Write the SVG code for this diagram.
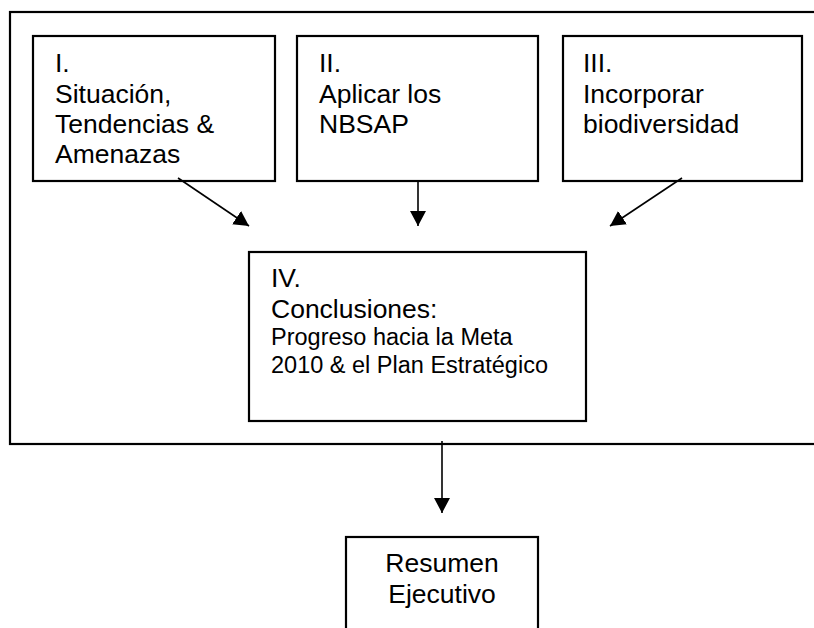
<svg xmlns="http://www.w3.org/2000/svg" width="814" height="628" viewBox="0 0 814 628">
<style>
.box{fill:#fff;stroke:#000;stroke-width:2.2}
.t{font-family:"Liberation Sans",Arial,sans-serif;font-size:26.5px;fill:#000}
.s{font-size:23.5px}
.c{stroke:#000;stroke-width:1.6;fill:none;marker-end:url(#ah)}
</style>
<defs>
<marker id="ah" viewBox="0 0 15 16" refX="15" refY="8" markerWidth="15" markerHeight="16" markerUnits="userSpaceOnUse" orient="auto">
<path d="M0,0 L15,8 L0,16 z" fill="#000"/>
</marker>
</defs>
<rect x="0" y="0" width="814" height="628" fill="#fff"/>
<g id="outer">
<rect class="box" x="10" y="12" width="810" height="432" fill="none"/>
</g>
<g id="n1">
<rect class="box" x="33" y="36" width="242" height="145"/>
<text class="t" x="55" y="72">I.</text>
<text class="t" x="55" y="103">Situación,</text>
<text class="t" x="55" y="133">Tendencias &amp;</text>
<text class="t" x="55" y="163">Amenazas</text>
</g>
<g id="n2">
<rect class="box" x="297" y="36" width="241" height="145"/>
<text class="t" x="319" y="72">II.</text>
<text class="t" x="319" y="103">Aplicar los</text>
<text class="t" x="319" y="133">NBSAP</text>
</g>
<g id="n3">
<rect class="box" x="563" y="36" width="239" height="145"/>
<text class="t" x="583" y="72">III.</text>
<text class="t" x="583" y="103">Incorporar</text>
<text class="t" x="583" y="133">biodiversidad</text>
</g>
<g id="n4">
<rect class="box" x="249" y="252" width="337" height="169"/>
<text class="t" x="271" y="287">IV.</text>
<text class="t" x="271" y="318">Conclusiones:</text>
<text class="t s" x="271" y="345">Progreso hacia la Meta</text>
<text class="t s" x="271" y="373">2010 &amp; el Plan Estratégico</text>
</g>
<g id="n5">
<rect class="box" x="346" y="537" width="192" height="100"/>
<text class="t" x="442" y="572" text-anchor="middle">Resumen</text>
<text class="t" x="442" y="603" text-anchor="middle">Ejecutivo</text>
</g>
<g id="connectors">
<line class="c" x1="178" y1="178" x2="249" y2="226"/>
<line class="c" x1="418" y1="181" x2="418" y2="226"/>
<line class="c" x1="682" y1="178" x2="610" y2="226"/>
<line class="c" x1="442" y1="441" x2="442" y2="513"/>
</g>
</svg>
